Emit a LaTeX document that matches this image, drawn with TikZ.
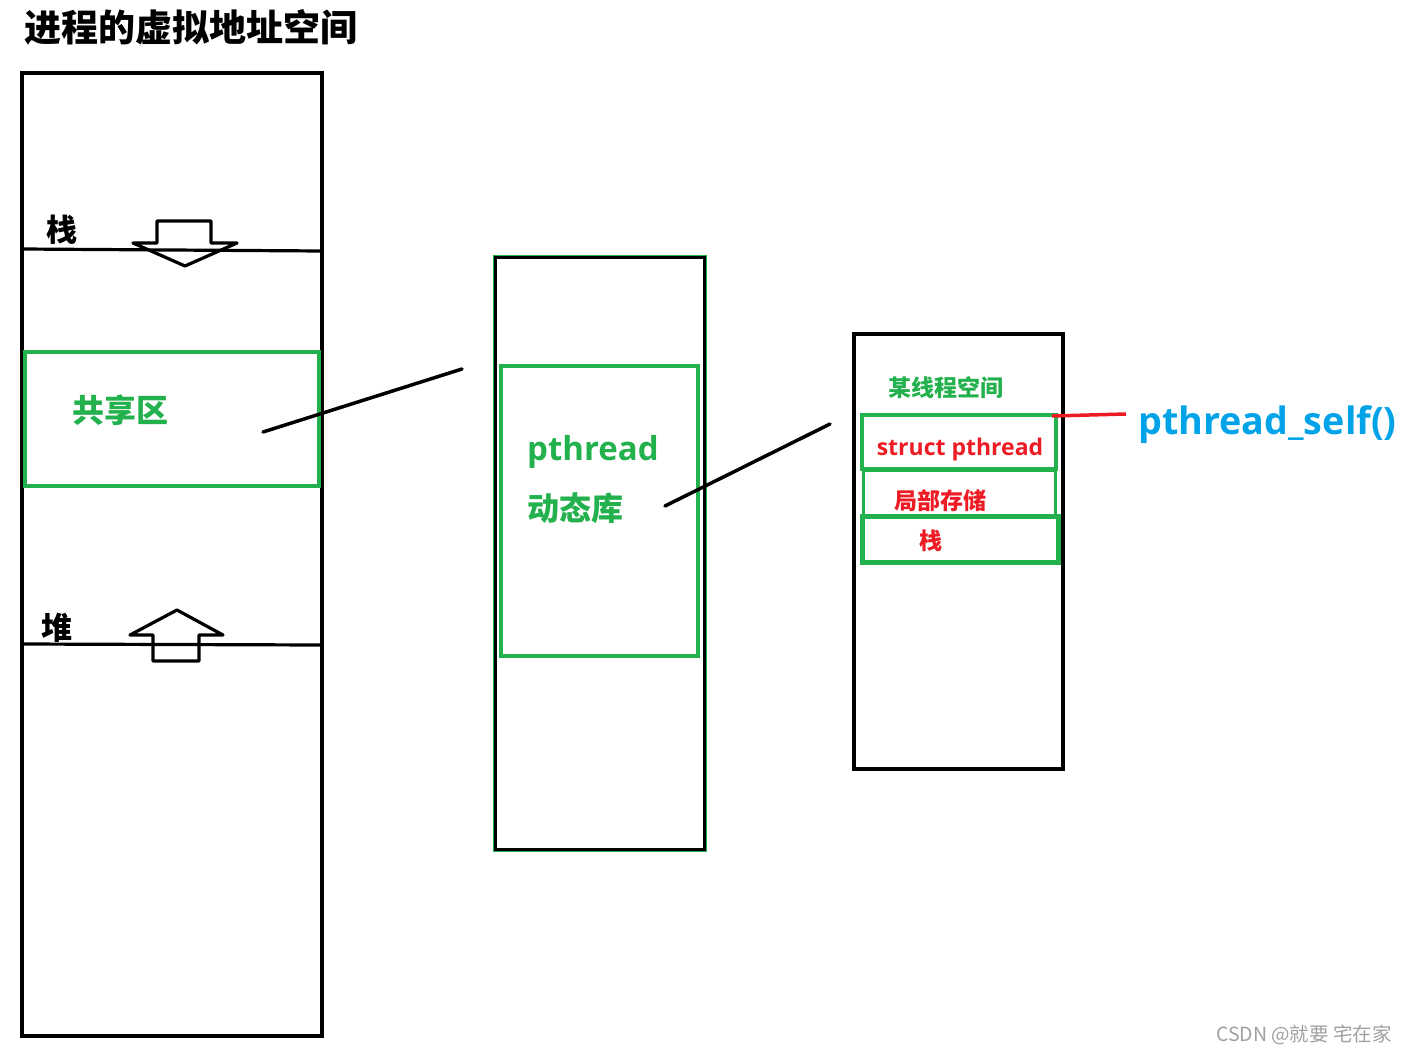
\documentclass[tikz,border=0pt]{standalone}
\usepackage{fontspec}
\setmainfont{Noto Sans CJK SC}
\newfontfamily\latf{Open Sans}
\definecolor{gr}{RGB}{34,177,76}
\definecolor{rd}{RGB}{237,28,36}
\definecolor{bl}{RGB}{0,162,232}
\definecolor{wm}{RGB}{160,160,160}
\tikzset{
  blk/.style={draw=black,line width=3.5pt},
  grn/.style={draw=gr,line width=4pt},
  lbl/.style={inner sep=0pt,font=\bfseries\fontsize{#1}{#1}\selectfont},
  lbl/.default=30,
}
\begin{document}
\begin{tikzpicture}[x=1pt,y=-1pt]
\useasboundingbox (0,0) rectangle (1407,1054);
% title
\node[lbl=37,anchor=west] (title) at (24,27) {进程的虚拟地址空间};
% left big box
\draw[blk] (22,73) rectangle (322,1036);
\draw[line width=3.2pt] (22,249) -- (322,251);
\draw[line width=3.2pt] (22,644) -- (322,645);
% stack arrow
\draw[line width=3.2pt,line join=round] (157,243) -- (157,221) -- (211,221) -- (211,243) -- (237,243) -- (185,266) -- (133,243) -- cycle;
% heap arrow
\draw[line width=3.2pt,line join=round] (153,661) -- (153,635) -- (130,635) -- (177,610) -- (223,635) -- (199,635) -- (199,661) -- cycle;
\node[lbl=31] (zhan) at (62,230) {栈};
\node[lbl=31] (dui) at (57,628) {堆};
% shared region
\draw[grn] (25,352) rectangle (319,486);
\node[lbl=32,text=gr] (share) at (120,410) {共享区};
\coordinate (s1) at (263,432);
\coordinate (s2) at (462,369);
\draw[line width=3.5pt,line cap=round] (s1) -- (s2);
% middle box
\draw[draw=gr,line width=1.5pt] (494,256) rectangle (706,851);
\draw[blk] (495.5,257.5) rectangle (704.5,849.5);
\draw[grn] (501,366) rectangle (698,656);
\node[lbl=33,text=gr,anchor=west] (pt) at (527,452) {\latf pthread};
\node[lbl=32,text=gr,anchor=west] (lib) at (527,508) {动态库};
\coordinate (m1) at (665,506);
\coordinate (m2) at (830,424);
\draw[line width=3.5pt,line cap=round] (m1) -- (m2);
% right box
\draw[blk] (854,334) rectangle (1063,769);
\node[lbl=23,text=gr] (thr) at (946,388) {某线程空间};
\draw[grn] (862,415) rectangle (1056,469);
\draw[draw=gr,line width=3pt] (863,470) rectangle (1055,515);
\draw[draw=gr,line width=5pt] (862,516) rectangle (1058,562);
\node[lbl=23,text=rd] (sp) at (960,450) {\latf struct pthread};
\node[lbl=23,text=rd] (ls) at (940,501) {局部存储};
\node[lbl=23,text=rd] (st) at (931,541) {栈};
% pthread_self
\coordinate (r1) at (1052,416);
\coordinate (r2) at (1126,414);
\draw[draw=rd,line width=3.5pt] (r1) -- (r2);
\node[lbl=37.7,text=bl,anchor=west] (self) at (1138,425) {\latf pthread\_self()};
% watermark
\node[inner sep=0pt,anchor=east,text=wm,font=\fontsize{19.5}{20}\selectfont] (wmk) at (1392,1035) {CSDN @就要 宅在家};
\end{tikzpicture}
\end{document}
